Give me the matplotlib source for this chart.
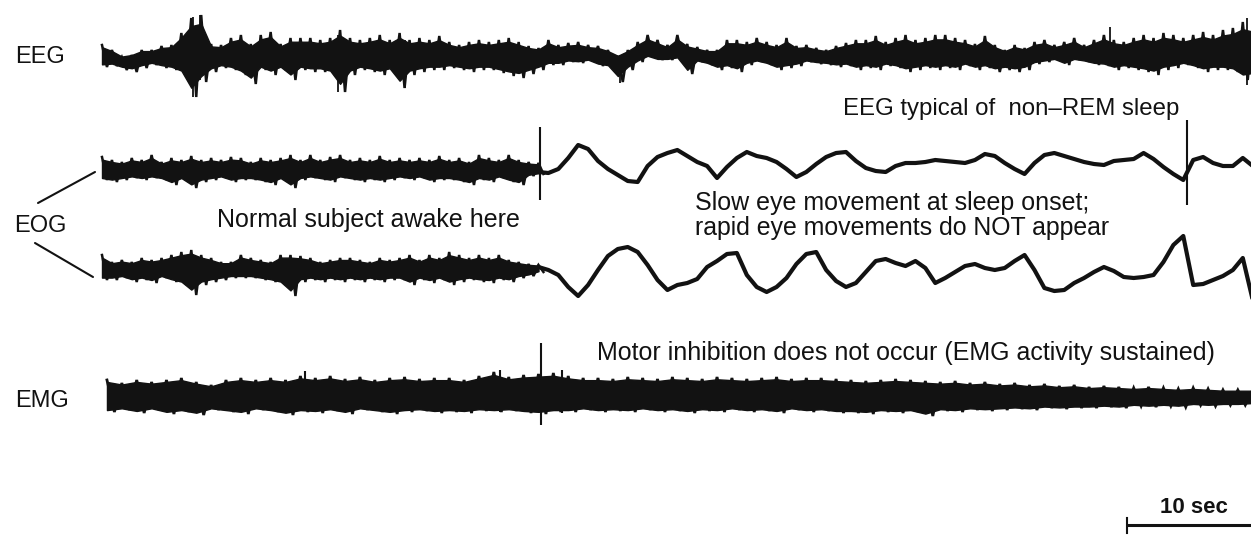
import numpy as np
import matplotlib
matplotlib.use("Agg")
import matplotlib.pyplot as plt

# ---------------- data (read from the reference recording) ----------------
# time in seconds; deflections in display units, EEG convention (negative = up)
EEG_DT = 0.8
EEG_TOP = [-10, -5, 2, 0, -5, -5, -9, -10, -22, -37, -40, -11, -10, -17, -20, -11, -20, -23, -11, -17,
           -17, -17, -15, -17, -25, -17, -15, -17, -20, -15, -22, -15, -17, -15, -19, -13, -10, -13, -15, -13,
           -15, -17, -13, -9, -7, -15, -10, -12, -13, -10, -9, -5, 1, -5, -13, -20, -15, -10, -20, -11,
           -8, -5, -5, -15, -15, -13, -17, -13, -10, -17, -9, -10, -7, -5, -9, -12, -15, -15, -19, -13,
           -17, -20, -15, -17, -20, -20, -17, -15, -11, -19, -10, -5, -10, -7, -13, -15, -10, -13, -17, -10,
           -15, -20, -15, -13, -17, -20, -17, -22, -20, -17, -20, -23, -20, -25, -27, -33, -30]
EEG_BOT = [12, 11, 15, 17, 13, 10, 13, 15, 20, 42, 27, 17, 13, 15, 20, 29, 15, 20, 15, 25,
           15, 17, 17, 20, 37, 20, 15, 17, 20, 17, 33, 20, 17, 15, 15, 13, 15, 17, 15, 15,
           18, 21, 23, 19, 15, 10, 10, 7, 8, 6, 11, 13, 27, 15, 7, 1, 5, 5, 3, 19,
           7, 10, 15, 13, 17, 10, 7, 10, 15, 13, 11, 7, 9, 10, 12, 11, 15, 13, 15, 11,
           13, 17, 15, 13, 15, 13, 15, 11, 15, 13, 17, 15, 17, 15, 9, 7, 5, 10, 5, 7,
           10, 11, 15, 13, 15, 17, 20, 15, 13, 10, 13, 17, 15, 15, 17, 25, 23]
EEG_SPIKE_T = [7.3, 7.9, 19.0, 24.4, 41.8, 81.3, 92.3]
EEG_SPIKE_HI = [-38, -40, -20, -15, 0, -28, -37]
EEG_SPIKE_LO = [42, 25, 37, 33, 28, 5, 30]

EOG_DT = 0.8
EOG_AWAKE_N = 45
EOG1_AWAKE_TOP = [-13, -10, -8, -12, -10, -15, -8, -12, -10, -14, -10, -12, -10, -13, -12, -8, -12, -10, -12, -15,
                  -10, -15, -10, -13, -15, -10, -12, -10, -14, -10, -12, -10, -12, -10, -14, -10, -12, -8, -15, -12,
                  -10, -15, -10, -8, -7]
EOG1_AWAKE_BOT = [10, 12, 10, 8, 10, 8, 10, 15, 10, 18, 12, 10, 8, 12, 10, 10, 12, 15, 10, 18,
                  10, 8, 10, 12, 8, 10, 12, 10, 12, 10, 8, 10, 8, 12, 10, 10, 12, 15, 10, 12,
                  8, 12, 15, 6, 4]
EOG1_SLEEP = [2, 3, -1, -12, -25, -21, -9, -1, 5, 11, 12, -4, -13, -17, -20, -14, -8, -4, 8, -3,
              -12, -18, -14, -12, -8, -1, 7, 2, -6, -13, -17, -18, -9, -2, 1, 2, -4, -7, -7, -8,
              -10, -9, -8, -7, -10, -16, -14, -7, -1, 4, -7, -15, -17, -14, -11, -8, -6, -5, -9, -10,
              -11, -17, -11, -3, 4, 10, -10, -13, -7, -4, -4, -12, -4]
EOG1_ART_T = [35.3, 87.5]
EOG1_ART_HI = [-43, -50]
EOG1_ART_LO = [30, 35]

EOG2_AWAKE_TOP = [-13, -6, -8, -6, -10, -8, -10, -13, -16, -18, -13, -10, -6, -6, -13, -10, -8, -6, -13, -13,
                  -12, -10, -6, -8, -10, -10, -8, -6, -10, -8, -10, -13, -8, -13, -10, -16, -13, -10, -13, -10,
                  -13, -8, -6, -4, -3]
EOG2_AWAKE_BOT = [12, 12, 10, 14, 12, 15, 10, 14, 17, 27, 17, 14, 12, 10, 10, 10, 12, 14, 17, 28,
                  14, 12, 14, 12, 14, 12, 14, 12, 14, 12, 12, 17, 12, 15, 12, 17, 14, 12, 14, 15,
                  12, 14, 10, 8, 4]
EOG2_SLEEP = [-1, 2, 7, 19, 28, 17, 2, -12, -19, -21, -16, -3, 12, 22, 17, 15, 11, -1, -7, -14,
              -15, 7, 19, 24, 19, 10, -4, -14, -16, 2, 13, 19, 15, 4, -7, -9, -5, -2, -7, 0,
              15, 10, 4, -2, -4, 0, 2, 0, -7, -13, 2, 20, 23, 22, 15, 10, 4, -1, 3, 9,
              10, 9, 7, -6, -23, -32, 17, 16, 12, 8, 2, -10, 32]

EMG_T0 = 0.4
EMG_DT = 1.2
EMG_TOP = [-16, -13, -16, -14, -16, -18, -14, -11, -16, -18, -16, -18, -16, -20, -18, -20, -17, -19, -16, -18,
           -19, -17, -18, -18, -16, -20, -24, -19, -21, -22, -23, -20, -18, -18, -17, -19, -18, -17, -19, -18,
           -17, -19, -18, -17, -18, -19, -17, -18, -18, -17, -16, -15, -16, -17, -16, -15, -14, -15, -13, -14,
           -12, -13, -11, -12, -10, -11, -9, -10, -9, -8, -9, -8, -7, -8, -7, -6, -6, -6]
EMG_BOT = [16, 14, 17, 14, 18, 16, 19, 14, 16, 18, 14, 16, 19, 16, 17, 15, 18, 14, 16, 18,
           16, 15, 17, 16, 17, 15, 16, 15, 17, 18, 16, 16, 14, 16, 15, 16, 14, 16, 15, 17,
           15, 16, 14, 16, 15, 17, 14, 16, 15, 17, 17, 18, 16, 17, 16, 20, 15, 16, 14, 15,
           14, 13, 14, 12, 13, 12, 12, 11, 12, 10, 11, 10, 11, 9, 10, 9, 9, 8]
EMG_SPIKE_T = [16.4, 32.1, 35.4, 37.1]
EMG_SPIKE_HI = [-25, -26, -53, -26]
EMG_SPIKE_LO = [14, 16, 29, 17]

SCALE_SEC = 10
CHANNELS = ["EEG", "EOG", "EMG"]
NOTES = ["EEG typical of  non\u2013REM sleep",
         "Normal subject awake here",
         "Slow eye movement at sleep onset;",
         "rapid eye movements do NOT appear",
         "Motor inhibition does not occur (EMG activity sustained)"]

# ---------------- layout ----------------
W, H = 1251, 535
PX_PER_S = 12.4
X0 = 102
OFF = {"EEG": 55, "EOG1": 170, "EOG2": 268, "EMG": 396}

plt.rcParams['font.family'] = ['Liberation Sans', 'DejaVu Sans']
fig = plt.figure(figsize=(W / 100, H / 100), dpi=100)
ax = fig.add_axes([0, 0, 1, 1])
ax.set_xlim(-X0 / PX_PER_S, (W - X0) / PX_PER_S)
ax.set_ylim(H, 0)
ax.axis("off")
INK = "#121212"


def band(t, top, bot, off, dt, core=0.8, lw=1.5):
    """Dense trace: solid core plus a zig-zag stroke reaching the read envelope."""
    t = np.asarray(t, float)
    top = np.asarray(top, float)
    bot = np.asarray(bot, float)
    ax.fill_between(t, off + core * top, off + core * bot, color=INK, lw=1.0, edgecolor=INK)
    zt = np.empty(2 * len(t))
    zy = np.empty(2 * len(t))
    zt[0::2] = t
    zt[1::2] = t + dt / 2
    zy[0::2] = off + top
    zy[1::2] = off + bot
    ax.plot(zt, zy, color=INK, lw=lw, solid_joinstyle="miter")


def spikes(ts, hi, lo, off, lw=1.4):
    ax.vlines(ts, off + np.asarray(hi), off + np.asarray(lo), color=INK, lw=lw)


# EEG
t_eeg = np.arange(len(EEG_TOP)) * EEG_DT
band(t_eeg, EEG_TOP, EEG_BOT, OFF["EEG"], EEG_DT, core=0.78, lw=1.8)
spikes(EEG_SPIKE_T, EEG_SPIKE_HI, EEG_SPIKE_LO, OFF["EEG"], lw=1.3)

# EOG
t_aw = np.arange(EOG_AWAKE_N) * EOG_DT
t_sl = (EOG_AWAKE_N - 1 + np.arange(len(EOG1_SLEEP))) * EOG_DT
band(t_aw, EOG1_AWAKE_TOP, EOG1_AWAKE_BOT, OFF["EOG1"], EOG_DT, core=0.8, lw=1.8)
ax.plot(t_sl, OFF["EOG1"] + np.asarray(EOG1_SLEEP), color=INK, lw=3.0, solid_joinstyle="round")
spikes(EOG1_ART_T, EOG1_ART_HI, EOG1_ART_LO, OFF["EOG1"], lw=1.5)
band(t_aw, EOG2_AWAKE_TOP, EOG2_AWAKE_BOT, OFF["EOG2"], EOG_DT, core=0.8, lw=1.8)
ax.plot(t_sl, OFF["EOG2"] + np.asarray(EOG2_SLEEP), color=INK, lw=3.0, solid_joinstyle="round")

# EMG
t_emg = EMG_T0 + np.arange(len(EMG_TOP)) * EMG_DT
band(t_emg, EMG_TOP, EMG_BOT, OFF["EMG"], EMG_DT, core=0.88, lw=2.0)
spikes(EMG_SPIKE_T, EMG_SPIKE_HI, EMG_SPIKE_LO, OFF["EMG"], lw=1.5)


# text in pixel layout
def ptext(x, y, s, size=17.8, **kw):
    fig.text(x / W, 1 - y / H, s, fontsize=size, color=INK, va="baseline", ha="left", **kw)


ptext(15, 63, CHANNELS[0], 17)
ptext(14, 232, CHANNELS[1], 17)
ptext(15, 407, CHANNELS[2], 17)
ptext(843, 115, NOTES[0], 17.3)
ptext(217, 227, NOTES[1], 18.0)
ptext(695, 210, NOTES[2], 18.0)
ptext(695, 235, NOTES[3], 17.9)
ptext(597, 360, NOTES[4], 18.0)

# EOG connector lines
ax.annotate("", xy=(-7 / PX_PER_S, 172), xytext=(-64 / PX_PER_S, 203),
            arrowprops=dict(arrowstyle="-", color=INK, lw=1.5, shrinkA=0, shrinkB=0))
ax.annotate("", xy=(-9 / PX_PER_S, 277), xytext=(-67 / PX_PER_S, 243),
            arrowprops=dict(arrowstyle="-", color=INK, lw=1.5, shrinkA=0, shrinkB=0))

# scale bar
x_end = (W - X0) / PX_PER_S
ax.plot([x_end - SCALE_SEC, x_end], [525, 525], color=INK, lw=2.2, solid_capstyle="butt")
ax.plot([x_end - SCALE_SEC, x_end - SCALE_SEC], [518, 533], color=INK, lw=1.5)
ptext(1160, 513, f"{SCALE_SEC} sec", 16, weight="bold")

fig.savefig("out.png", dpi=100, facecolor="white")
